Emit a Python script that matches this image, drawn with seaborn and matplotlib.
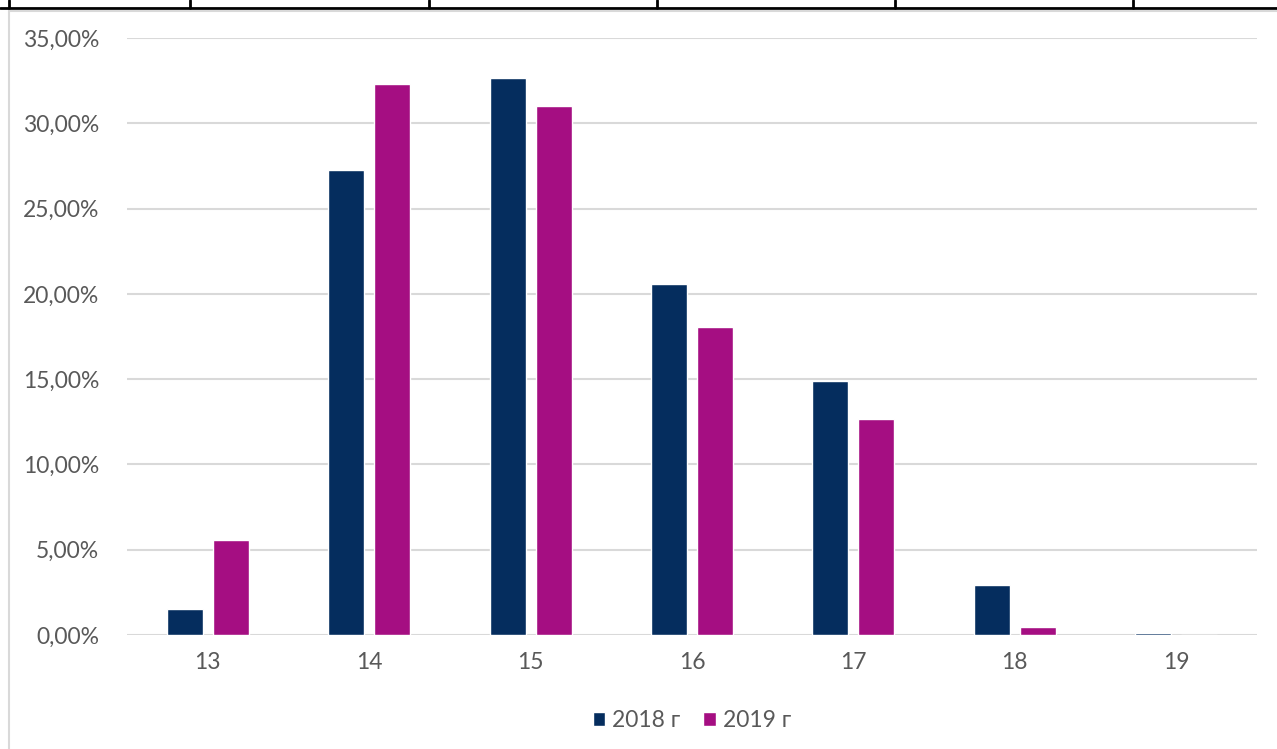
import pandas as pd
import matplotlib.pyplot as plt
import seaborn as sns
from matplotlib.lines import Line2D
from matplotlib.ticker import FuncFormatter

ages = ["13", "14", "15", "16", "17", "18", "19"]
share_2018 = [1.52, 27.26, 32.65, 20.57, 14.89, 2.93, 0.10]
share_2019 = [5.57, 32.30, 31.00, 18.05, 12.66, 0.47, 0.02]
series = ["2018 г", "2019 г"]
colors = ["#052D5E", "#A50E82"]

df = pd.DataFrame({
    "age": ages * 2,
    "share": share_2018 + share_2019,
    "year": [series[0]] * len(ages) + [series[1]] * len(ages),
})

sns.set_style("white")
plt.rcParams["font.family"] = ["Lato", "DejaVu Sans"]
text_col = "#595959"

fig = plt.figure(figsize=(12.77, 7.49), dpi=100)
ax = fig.add_axes([127 / 1277, 114 / 749, 1130 / 1277, 597 / 749])

sns.barplot(data=df, x="age", y="share", hue="year", palette=colors,
            width=0.57, gap=0.22, ax=ax, saturation=1, legend=True)

ax.set_ylim(0, 35)
ax.set_xlim(-0.5, 6.5)
ax.set_yticks(range(0, 36, 5))
ax.yaxis.set_major_formatter(FuncFormatter(lambda v, p: f"{v:.2f}%".replace(".", ",")))
ax.yaxis.grid(True, color="#D9D9D9", linewidth=1.5)
ax.set_axisbelow(True)
for s in ax.spines.values():
    s.set_visible(False)
ax.tick_params(axis="both", length=0, labelsize=16.5, labelcolor=text_col)
ax.tick_params(axis="y", pad=20)
ax.tick_params(axis="x", pad=12)
ax.set_xlabel("")
ax.set_ylabel("")

ax.legend(loc="center", bbox_to_anchor=(0.5, -0.143), ncol=2, frameon=False,
          fontsize=16.5, labelcolor=text_col, handlelength=0.55, handleheight=0.55,
          handletextpad=0.3, columnspacing=1.0)

# surrounding frame / table lines from the source page
fig.add_artist(Line2D([0, 1], [1 - 8 / 749] * 2, color="black", lw=2))
for xp in [9, 190, 429, 657, 895, 1133]:
    fig.add_artist(Line2D([xp / 1277] * 2, [1 - 8 / 749, 1], color="black", lw=2))
fig.add_artist(Line2D([9 / 1277, 1], [1 - 11 / 749] * 2, color="#D9D9D9", lw=1.5))
fig.add_artist(Line2D([9 / 1277] * 2, [0, 1 - 11 / 749], color="#D9D9D9", lw=1.5))

fig.savefig("out.png", dpi=100)
